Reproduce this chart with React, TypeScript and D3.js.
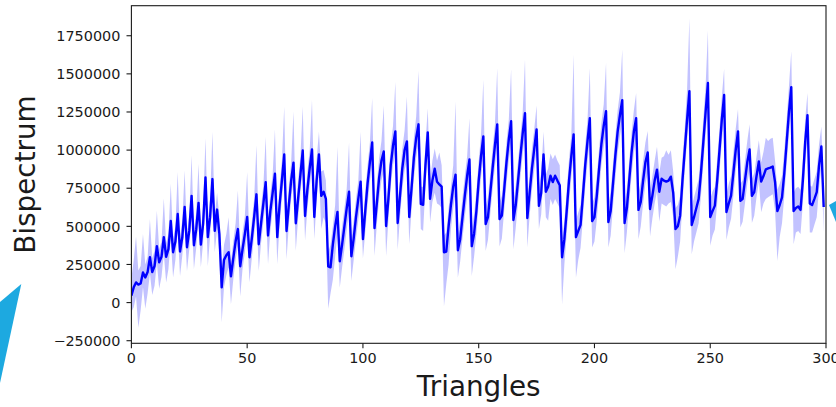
import React from "react";
import * as d3 from "d3";

// Mean bispectrum per triangle index (thousands)
const meanK = [
  45, 100, 132, 118, 125, 198, 165, 200, 297, 200,
  240, 370, 264, 300, 429, 300, 350, 535, 330, 400,
  581, 335, 430, 627, 363, 470, 700, 376, 480, 654,
  380, 520, 820, 429, 560, 810, 470, 610, 450, 100,
  280, 310, 330, 172, 290, 400, 482, 238, 350, 450,
  561, 297, 420, 560, 710, 383, 520, 650, 790, 440,
  600, 720, 845, 429, 640, 800, 971, 469, 640, 800,
  918, 520, 680, 840, 997, 568, 740, 880, 1004, 561,
  800, 971, 700, 727, 680, 238, 231, 380, 500, 594,
  271, 380, 500, 620, 727, 304, 420, 560, 680, 793,
  416, 600, 780, 920, 1050, 489, 650, 820, 930, 991,
  502, 680, 900, 1030, 1123, 522, 700, 880, 1000, 1057,
  561, 750, 950, 1080, 1169, 647, 641, 900, 1116, 680,
  800, 878, 793, 775, 760, 330, 335, 500, 640, 760,
  839, 343, 416, 560, 700, 830, 938, 370, 450, 600,
  800, 960, 1090, 515, 560, 720, 880, 1030, 1169, 548,
  570, 740, 920, 1070, 1189, 542, 640, 800, 960, 1110,
  1242, 555, 720, 880, 1010, 1136, 634, 720, 971, 727,
  760, 832, 790, 832, 800, 770, 297, 416, 600, 800,
  960, 1103, 429, 470, 510, 700, 900, 1060, 1209, 535,
  560, 700, 880, 1040, 1160, 1255, 528, 600, 780, 960,
  1120, 1230, 1328, 522, 620, 800, 980, 1120, 1209, 608,
  660, 800, 920, 984, 614, 700, 800, 872, 727, 812,
  800, 793, 800, 826, 720, 482, 500, 570, 800, 1000,
  1200, 1387, 509, 560, 620, 680, 850, 1050, 1250, 1440,
  561, 600, 636, 800, 1000, 1200, 1361, 594, 650, 702,
  850, 1000, 1123, 667, 680, 800, 920, 1004, 700, 724,
  830, 925, 793, 830, 874, 880, 885, 892, 790, 600,
  640, 690, 850, 1050, 1250, 1413, 600, 620, 630, 608,
  800, 1050, 1229, 650, 640, 680, 724, 900, 1024, 627,
];

// Lower edge of the shaded band (thousands)
const lowerK = [
  -60, -30, 40, -165, -50, 100, -40, 60, 190, 50,
  110, 260, 90, 170, 320, 132, 220, 420, 165, 280,
  470, 172, 310, 510, 205, 350, 580, 218, 360, 540,
  231, 400, 700, 238, 440, 690, 330, 480, 320, -130,
  100, 180, 230, -13, 150, 280, 370, 40, 220, 330,
  450, 132, 290, 440, 590, 207, 390, 530, 670, 251,
  470, 600, 720, 251, 510, 680, 840, 284, 510, 680,
  800, 339, 550, 720, 870, 405, 610, 760, 880, 416,
  670, 850, 482, 560, 520, -40, 60, 150, 300, 460,
  97, 230, 350, 480, 600, 141, 280, 420, 540, 670,
  290, 460, 640, 790, 920, 306, 510, 680, 800, 860,
  306, 540, 760, 900, 990, 345, 560, 740, 870, 930,
  383, 610, 810, 950, 1040, 482, 470, 760, 990, 526,
  660, 720, 650, 640, 620, -24, 120, 250, 480, 620,
  720, 163, 270, 420, 560, 690, 810, 174, 300, 450,
  650, 820, 950, 339, 410, 580, 740, 890, 1030, 368,
  420, 600, 780, 930, 1050, 350, 490, 660, 820, 970,
  1100, 361, 570, 740, 870, 1000, 482, 580, 840, 560,
  537, 680, 640, 680, 650, 620, -13, 250, 450, 650,
  820, 970, 163, 280, 360, 550, 750, 920, 1070, 361,
  400, 540, 730, 900, 1020, 1120, 361, 440, 630, 810,
  980, 1090, 1190, 324, 460, 650, 830, 980, 1070, 416,
  500, 650, 780, 850, 434, 550, 650, 730, 530, 650,
  640, 630, 650, 660, 560, 218, 300, 400, 650, 860,
  1060, 1240, 317, 400, 460, 520, 700, 900, 1100, 1290,
  372, 440, 480, 650, 850, 1050, 1220, 411, 490, 550,
  700, 860, 990, 493, 530, 650, 780, 870, 522, 570,
  690, 790, 592, 650, 680, 690, 700, 710, 600, 273,
  430, 520, 700, 900, 1100, 1270, 383, 460, 470, 450,
  650, 900, 1090, 460, 460, 510, 560, 750, 890, 462,
];

// Upper edge of the shaded band (thousands)
const upperK = [
  160, 280, 434, 210, 240, 449, 250, 300, 548, 290,
  340, 603, 350, 400, 685, 390, 450, 779, 420, 500,
  857, 430, 540, 867, 450, 580, 966, 460, 590, 911,
  470, 640, 1077, 520, 680, 1121, 570, 720, 560, 200,
  380, 450, 560, 270, 400, 520, 735, 330, 460, 570,
  857, 390, 530, 680, 1032, 480, 630, 770, 1088, 540,
  710, 840, 1136, 530, 760, 930, 1286, 570, 760, 920,
  1253, 620, 800, 960, 1286, 670, 860, 1000, 1330, 680,
  940, 1120, 860, 870, 800, 330, 380, 500, 640, 1022,
  380, 500, 620, 750, 1050, 410, 540, 680, 800, 1121,
  520, 730, 900, 1050, 1341, 600, 780, 950, 1060, 1293,
  610, 810, 1030, 1160, 1447, 630, 830, 1010, 1130, 1352,
  670, 880, 1080, 1220, 1521, 760, 760, 1040, 1275, 790,
  930, 1011, 930, 984, 900, 440, 460, 620, 760, 900,
  1319, 450, 540, 690, 830, 960, 1209, 480, 580, 730,
  930, 1100, 1462, 630, 690, 850, 1010, 1170, 1539, 660,
  700, 870, 1050, 1200, 1532, 660, 770, 930, 1090, 1250,
  1594, 670, 850, 1010, 1140, 1293, 750, 850, 1121, 840,
  880, 978, 940, 971, 930, 900, 400, 540, 730, 940,
  1100, 1627, 540, 590, 640, 830, 1030, 1200, 1539, 650,
  690, 830, 1010, 1180, 1300, 1572, 640, 730, 910, 1090,
  1260, 1380, 1660, 640, 750, 930, 1110, 1260, 1374, 720,
  790, 930, 1050, 1125, 730, 830, 930, 1022, 850, 950,
  960, 999, 970, 999, 860, 620, 640, 700, 940, 1150,
  1400, 1865, 630, 690, 750, 810, 990, 1200, 1420, 1785,
  680, 730, 760, 940, 1140, 1350, 1534, 710, 780, 830,
  990, 1140, 1270, 780, 800, 930, 1060, 1169, 810, 850,
  960, 1065, 920, 990, 1081, 1060, 1075, 1081, 930, 740,
  780, 830, 1000, 1200, 1420, 1649, 720, 750, 760, 740,
  940, 1200, 1374, 770, 760, 810, 860, 1040, 1154, 720,
];

const xTicks = [0, 50, 100, 150, 200, 250, 300];
const yTicks = [-250000, 0, 250000, 500000, 750000, 1000000, 1250000, 1500000, 1750000];
const xLabel = "Triangles";
const yLabel = "Bispectrum";

export default function App() {
  const W = 836;
  const H = 407;
  const left = 131.4;
  const right = 826;
  const top = 5.7;
  const bottom = 343.3;

  const x = d3.scaleLinear().domain([0, 300]).range([left, right]);
  const y = d3.scaleLinear().domain([-267000, 1947000]).range([bottom, top]);
  const n = Math.min(meanK.length, lowerK.length, upperK.length);
  const idx = d3.range(n);

  const band = d3
    .area<number>()
    .x((i) => x(i))
    .y0((i) => y(lowerK[i] * 1000))
    .y1((i) => y(upperK[i] * 1000));
  const line = d3
    .line<number>()
    .x((i) => x(i))
    .y((i) => y(meanK[i] * 1000));
  const fmt = d3.format("d");
  const font = "'DejaVu Sans', sans-serif";
  const ink = "#1a1a1a";

  return (
    <svg
      width={W}
      height={H}
      viewBox={`0 0 ${W} ${H}`}
      style={{ position: "absolute", left: 0, top: 0, background: "#fff" }}
    >
      <rect x={0} y={0} width={W} height={H} fill="#fff" />
      <defs>
        <clipPath id="plotArea">
          <rect x={left} y={top} width={right - left} height={bottom - top} />
        </clipPath>
      </defs>
      <g clipPath="url(#plotArea)">
        <path d={band(idx) || ""} fill="#0000ff" fillOpacity={0.24} stroke="none" />
        <path d={line(idx) || ""} fill="none" stroke="#0000ff" strokeWidth={2.4} strokeLinejoin="round" />
      </g>
      <rect
        x={left}
        y={top}
        width={right - left}
        height={bottom - top}
        fill="none"
        stroke={ink}
        strokeWidth={1.1}
      />
      {yTicks.map((t) => (
        <g key={`y${t}`}>
          <line x1={left - 4.9} x2={left} y1={y(t)} y2={y(t)} stroke={ink} strokeWidth={1.1} />
          <text
            x={left - 11}
            y={y(t)}
            dy="0.36em"
            textAnchor="end"
            fontFamily={font}
            fontSize={14.4}
            fill={ink}
          >
            {fmt(t)}
          </text>
        </g>
      ))}
      {xTicks.map((t) => (
        <g key={`x${t}`}>
          <line x1={x(t)} x2={x(t)} y1={bottom} y2={bottom + 4.9} stroke={ink} strokeWidth={1.1} />
          <text
            x={x(t)}
            y={bottom + 20}
            textAnchor="middle"
            fontFamily={font}
            fontSize={14.4}
            fill={ink}
          >
            {t}
          </text>
        </g>
      ))}
      <text
        x={(left + right) / 2}
        y={396}
        textAnchor="middle"
        fontFamily={font}
        fontSize={27.8}
        fill={ink}
      >
        {xLabel}
      </text>
      <text
        transform={`translate(35, ${(top + bottom) / 2}) rotate(-90)`}
        textAnchor="middle"
        fontFamily={font}
        fontSize={27.8}
        fill={ink}
      >
        {yLabel}
      </text>
      <polygon points="0,302 21.3,284 0,383" fill="#1DA9E0" />
      <polygon points="829,205 836,201 836,222" fill="#1DA9E0" />
    </svg>
  );
}
